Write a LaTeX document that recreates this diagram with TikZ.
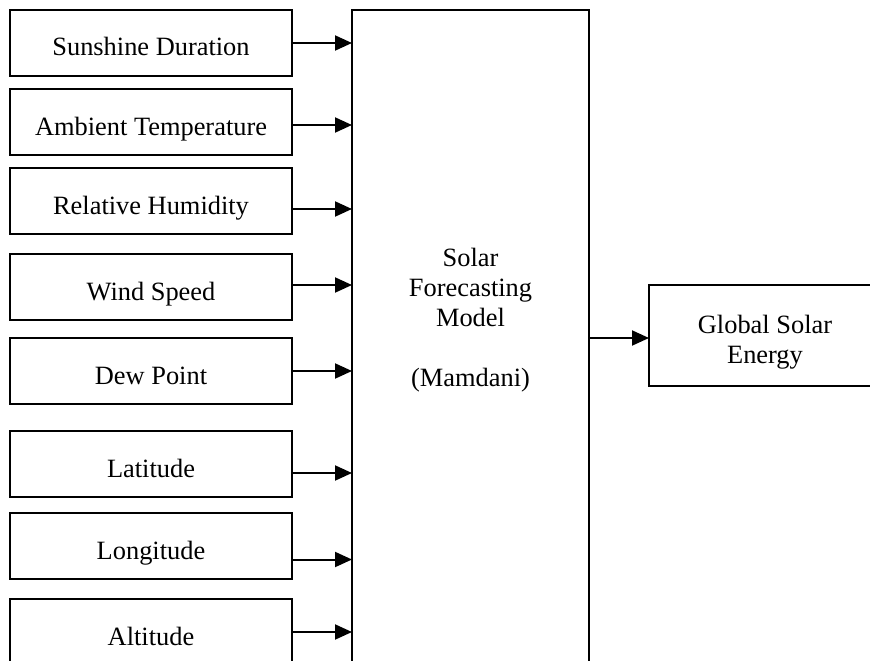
\documentclass[tikz,border=0pt]{standalone}
\usepackage{fontspec}
\setmainfont{Liberation Serif}
\usetikzlibrary{arrows.meta}
\begin{document}
\begin{tikzpicture}[x=1pt,y=1pt,
  every node/.style={font=\fontsize{26.4}{30}\selectfont},
  inbox/.style={draw, line width=1.3pt, minimum width=282pt, minimum height=66pt,
    inner sep=0pt, outer sep=0pt, text height=26pt, text depth=0pt, anchor=north west},
  bigbox/.style={draw, line width=1.3pt, inner sep=0pt, outer sep=0pt, anchor=north west},
  lbl/.style={align=center, anchor=base, inner sep=0pt},
  arr/.style={line width=2pt, -{Triangle[length=17pt,width=15pt]}}]
\useasboundingbox (0,0) rectangle (870,-661);
\clip (0,0) rectangle (870,-661);

% input variables
\node[inbox] (b1) at (10,-10)  {Sunshine Duration};
\node[inbox] (b2) at (10,-89)  {Ambient Temperature};
\node[inbox] (b3) at (10,-168) {Relative Humidity};
\node[inbox] (b4) at (10,-254) {Wind Speed};
\node[inbox] (b5) at (10,-338) {Dew Point};
\node[inbox] (b6) at (10,-431) {Latitude};
\node[inbox] (b7) at (10,-513) {Longitude};
\node[inbox] (b8) at (10,-599) {Altitude};

% fuzzy model block (base anchor = baseline of the last line)
\node[bigbox, minimum width=237pt, minimum height=700pt] (model) at (352,-10) {};
\node[lbl] (modeltxt) at (470.5,-386)
  {Solar\\Forecasting\\Model\\[30pt](Mamdani)};

% output
\node[bigbox, minimum width=232pt, minimum height=101pt] (out) at (649,-285) {};
\node[lbl] (outtxt) at (765,-363) {Global Solar\\Energy};

% connectors
\draw[arr] (b1.east) -- (b1.east -| model.west);
\draw[arr] ([yshift=-3pt]b2.east) -- ([yshift=-3pt]b2.east -| model.west);
\draw[arr] ([yshift=-8pt]b3.east) -- ([yshift=-8pt]b3.east -| model.west);
\draw[arr] ([yshift=2pt]b4.east) -- ([yshift=2pt]b4.east -| model.west);
\draw[arr] (b5.east) -- (b5.east -| model.west);
\draw[arr] ([yshift=-9pt]b6.east) -- ([yshift=-9pt]b6.east -| model.west);
\draw[arr] ([yshift=-13.5pt]b7.east) -- ([yshift=-13.5pt]b7.east -| model.west);
\draw[arr] (b8.east) -- (b8.east -| model.west);
\draw[arr] ([yshift=-2.5pt]out.west -| model.east) -- ([yshift=-2.5pt]out.west);
\end{tikzpicture}
\end{document}
